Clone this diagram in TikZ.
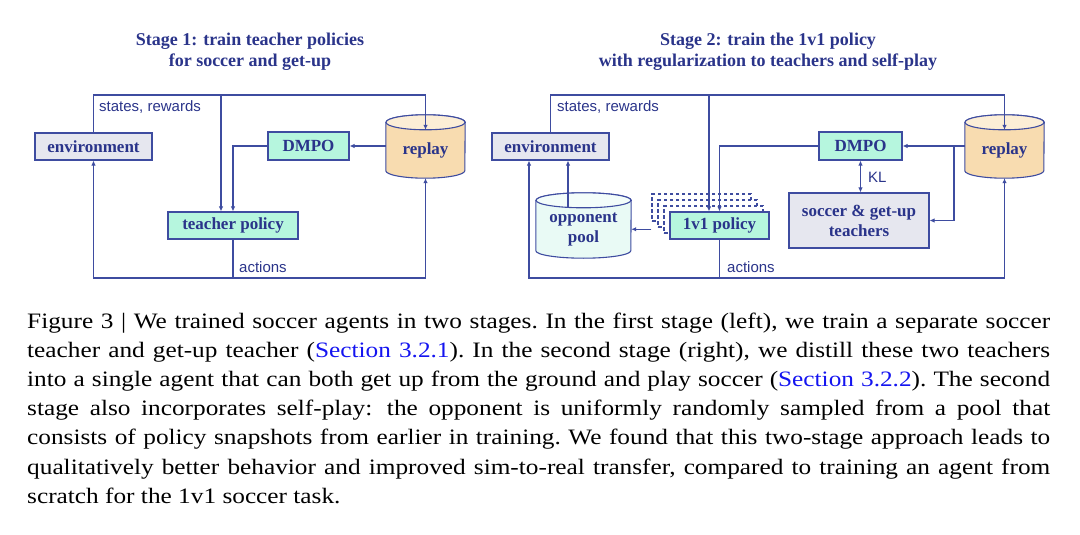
\documentclass[tikz,border=0pt]{standalone}
\usepackage{fontspec}
\setmainfont{Liberation Serif}
\newfontfamily\labelsans{Liberation Sans}
\newfontfamily\capserif[FakeStretch=1.15]{Liberation Serif}
\usetikzlibrary{arrows.meta,backgrounds}

\definecolor{inkblue}{RGB}{42,52,138}
\definecolor{wireblue}{RGB}{62,76,160}
\definecolor{envgray}{RGB}{230,231,239}
\definecolor{mint}{RGB}{182,246,222}
\definecolor{sand}{RGB}{248,220,176}
\definecolor{sandtop}{RGB}{252,238,214}
\definecolor{paleteal}{RGB}{233,250,245}
\definecolor{paletealtop}{RGB}{243,253,250}
\definecolor{linkblue}{RGB}{20,20,240}

\tikzset{
  box/.style={draw=wireblue, line width=1.1pt, text=inkblue, font=\fontsize{17}{20}\selectfont\bfseries,
    minimum height=27pt, inner sep=0pt, align=center},
  envbox/.style={box, fill=envgray},
  netbox/.style={box, fill=mint},
  ghost/.style={draw=wireblue, line width=1.1pt, dash pattern=on 3.5pt off 2.5pt, fill=white,
    minimum width=99pt, minimum height=27pt},
  store/.style={text=inkblue, font=\fontsize{17}{20}\selectfont\bfseries, inner sep=0pt, align=center},
  drum/.style={draw=wireblue, line width=1.1pt},
  wire/.style={draw=wireblue, line width=1.1pt},
  arr/.style={wire, -{Latex[length=5pt,width=4.5pt]}},
  lbl/.style={text=inkblue, font=\labelsans\fontsize{15}{18}\selectfont, inner sep=0pt, anchor=west},
  stagetitle/.style={text=inkblue, font=\fontsize{18}{21}\selectfont\bfseries, align=center},
  capline/.style={font=\capserif\fontsize{22}{26}\selectfont\frenchspacing, anchor=base west, inner sep=0pt},
}

% cylinder round a store node (node = body below the top rim): node, fill, top fill, x radius
\newcommand{\drumbody}[4]{%
  \path[drum, fill=#2] (#1.north west) -- ([yshift=7.5pt]#1.south west)
    arc[start angle=180, end angle=360, x radius=#4, y radius=7.5pt]
    -- (#1.north east)
    arc[start angle=0, end angle=180, x radius=#4, y radius=7.5pt] -- cycle;
  \path[drum, fill=#3] (#1.north) ellipse [x radius=#4, y radius=7.5pt];
}

\begin{document}
\begin{tikzpicture}[x=1pt,y=-1pt]
\useasboundingbox (0,0) rectangle (1080,535);

% stage 1
\node[stagetitle] (titleL) at (250,52) {Stage 1: train teacher policies\\for soccer and get-up};

\node[envbox, minimum width=117pt] (envL) at (93.5,146.5) {environment};
\node[netbox, minimum width=81pt, minimum height=28pt] (dmpoL) at (308.5,146) {DMPO};
\node[netbox, minimum width=130pt] (teacherL) at (233,225.5) {teacher policy};
\node[store, minimum width=79pt, minimum height=55.5pt] (replayL) at (425.5,150.25) {replay};
\begin{pgfonlayer}{background}
  \drumbody{replayL}{sand}{sandtop}{39.5pt}
\end{pgfonlayer}

\coordinate (railTL) at (0,95);
\coordinate (railBL) at (0,278);
\coordinate (splitL) at (221,95);
\coordinate (rimL) at ([yshift=-7.5pt]replayL.north);

\draw[arr] (envL.north) -- (envL.north |- railTL) -| (rimL);
\draw[arr] (splitL) -- (splitL |- teacherL.north);
\draw[arr] (dmpoL.east -| replayL.west) -- (dmpoL.east);
\draw[arr] (dmpoL.west) -| (teacherL.north);
\draw[wire] (teacherL.south) -- (teacherL.south |- railBL);
\draw[arr] (teacherL.south |- railBL) -| (envL.south);
\draw[arr] (teacherL.south |- railBL) -| (replayL.south);

\node[lbl] (srL) at (99,107) {states, rewards};
\node[lbl] (actL) at (239,267) {actions};

% stage 2
\node[stagetitle] (titleR) at (768,52) {Stage 2: train the 1v1 policy\\with regularization to teachers and self-play};

\node[envbox, minimum width=117pt] (envR) at (550.5,146.5) {environment};
\node[netbox, minimum width=83pt, minimum height=28pt] (dmpoR) at (860.5,146) {DMPO};
\node[envbox, minimum width=140pt, minimum height=55pt] (teachers) at (859,220.5) {soccer \& get-up\\teachers};
\node[store, minimum width=79pt, minimum height=55.5pt] (replayR) at (1004.5,150.25) {replay};
\node[store, minimum width=95pt, minimum height=57.5pt] (pool) at (583.5,229.25) {opponent\\pool};
\begin{pgfonlayer}{background}
  \drumbody{replayR}{sand}{sandtop}{39.5pt}
  \drumbody{pool}{paleteal}{paletealtop}{47.5pt}
\end{pgfonlayer}

\node[ghost] (stack3) at (701.5,207.5) {};
\node[ghost] (stack2) at (707.5,213.5) {};
\node[ghost] (stack1) at (713.5,219.5) {};
\node[netbox, minimum width=99pt] (policy) at (719.5,225.5) {1v1 policy};

\coordinate (railTR) at (0,95);
\coordinate (railBR) at (0,278);
\coordinate (splitR) at (709,95);
\coordinate (tapR) at (954,0);
\coordinate (rimR) at ([yshift=-7.5pt]replayR.north);
\coordinate (envin) at ([xshift=-21.5pt]envR.south);
\coordinate (poolout) at ([xshift=-15.5pt]pool.north);

\draw[arr] (envR.north) -- (envR.north |- railTR) -| (rimR);
\draw[arr] (splitR) -- (splitR |- policy.north);
\draw[arr] (dmpoR.east -| replayR.west) -- (dmpoR.east);
\draw[arr] (dmpoR.east -| tapR) |- (teachers.east);
\draw[arr] (dmpoR.west) -| (policy.north);
\draw[wire, {Latex[length=5pt,width=4.5pt]}-{Latex[length=5pt,width=4.5pt]}] (dmpoR.south) -- (dmpoR.south |- teachers.north);
\draw[arr] (pool.east -| stack3.west) -- (pool.east);
\draw[arr] ([yshift=-7.5pt]poolout) -- (poolout |- envR.south);
\draw[wire] (policy.south) -- (policy.south |- railBR);
\draw[arr] (policy.south |- railBR) -| (envin);
\draw[arr] (policy.south |- railBR) -| (replayR.south);

\node[lbl] (srR) at (557,107) {states, rewards};
\node[lbl] (actR) at (727,267) {actions};
\node[lbl] (kl) at (868,177) {KL};

% caption
\node[capline] (cap1) at (27,328) {\makebox[1023pt][s]{Figure 3 | We trained soccer agents in two stages. In the first stage (left), we train a separate soccer}};
\node[capline] (cap2) at (27,357.2) {\makebox[1023pt][s]{teacher and get-up teacher (\textcolor{linkblue}{Section 3.2.1}). In the second stage (right), we distill these two teachers}};
\node[capline] (cap3) at (27,386.4) {\makebox[1023pt][s]{into a single agent that can both get up from the ground and play soccer (\textcolor{linkblue}{Section 3.2.2}). The second}};
\node[capline] (cap4) at (27,415.6) {\makebox[1023pt][s]{stage also incorporates self-play:\hspace{4pt} the opponent is uniformly randomly sampled from a pool that}};
\node[capline] (cap5) at (27,444.8) {\makebox[1023pt][s]{consists of policy snapshots from earlier in training. We found that this two-stage approach leads to}};
\node[capline] (cap6) at (27,474) {\makebox[1023pt][s]{qualitatively better behavior and improved sim-to-real transfer, compared to training an agent from}};
\node[capline] (cap7) at (27,503.2) {scratch for the 1v1 soccer task.};
\end{tikzpicture}
\end{document}
